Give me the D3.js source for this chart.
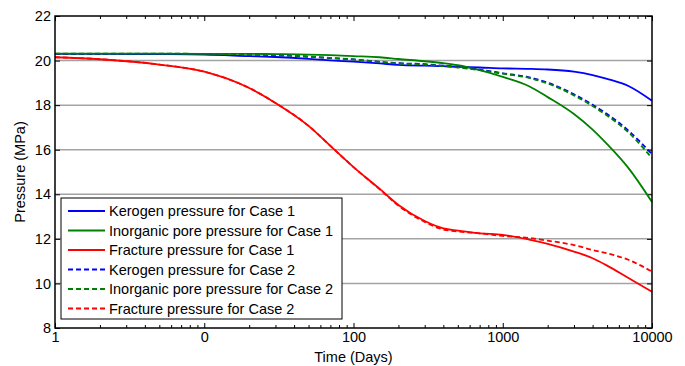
<!DOCTYPE html>
<html>
<head>
<meta charset="utf-8">
<script src="https://cdn.jsdelivr.net/npm/d3@7"></script>
<style>
  html, body { margin: 0; padding: 0; background: #fff; }
  svg { display: block; font-family: "Liberation Sans", Arial, sans-serif; }
</style>
</head>
<body>
<svg id="chart" width="685" height="366"></svg>
<script>
// ---- Data ----
const times = [1, 2, 5, 10, 20, 30, 50, 70, 100, 150, 200, 300, 400, 500, 700, 1000, 1500, 2000, 3000, 4000, 5000, 7000, 10000];

const kerogenCase1   = [20.30, 20.30, 20.29, 20.27, 20.20, 20.16, 20.08, 20.01, 19.95, 19.87, 19.81, 19.77, 19.75, 19.72, 19.69, 19.65, 19.63, 19.60, 19.50, 19.35, 19.18, 18.85, 18.20];
const inorganicCase1 = [20.31, 20.31, 20.31, 20.30, 20.30, 20.29, 20.27, 20.24, 20.20, 20.15, 20.07, 19.97, 19.88, 19.79, 19.57, 19.27, 18.85, 18.36, 17.60, 16.90, 16.25, 15.15, 13.65];
const fractureCase1  = [20.15, 20.06, 19.82, 19.50, 18.77, 18.10, 17.07, 16.17, 15.22, 14.24, 13.52, 12.80, 12.47, 12.37, 12.25, 12.18, 11.97, 11.78, 11.43, 11.13, 10.80, 10.23, 9.63];
const kerogenCase2   = [20.30, 20.30, 20.30, 20.29, 20.27, 20.24, 20.17, 20.11, 20.05, 19.94, 19.88, 19.84, 19.77, 19.71, 19.59, 19.43, 19.25, 19.01, 18.49, 18.02, 17.60, 16.84, 15.80];
const inorganicCase2 = [20.31, 20.31, 20.31, 20.30, 20.28, 20.25, 20.18, 20.12, 20.05, 19.94, 19.87, 19.82, 19.75, 19.69, 19.57, 19.41, 19.22, 18.97, 18.44, 17.96, 17.53, 16.76, 15.62];
const fractureCase2  = [20.15, 20.06, 19.82, 19.50, 18.77, 18.10, 17.07, 16.17, 15.22, 14.22, 13.49, 12.76, 12.42, 12.33, 12.25, 12.13, 12.04, 11.92, 11.72, 11.50, 11.35, 11.05, 10.53];

const seriesNames = [
  "Kerogen pressure for Case 1",
  "Inorganic pore pressure for Case 1",
  "Fracture pressure for Case 1",
  "Kerogen pressure for Case 2",
  "Inorganic pore pressure for Case 2",
  "Fracture pressure for Case 2"
];
const seriesValues = [kerogenCase1, inorganicCase1, fractureCase1, kerogenCase2, inorganicCase2, fractureCase2];
const seriesColors = ["#0000ff", "#008000", "#ff0000", "#0000ff", "#008000", "#ff0000"];
const seriesDashed = [false, false, false, true, true, true];

const xMajorTicks = [1, 10, 100, 1000, 10000];
const xTickLabels = ["1", "0", "100", "1000", "10000"];
const yTicks = [8, 10, 12, 14, 16, 18, 20, 22];
const xTitle = "Time (Days)";
const yTitle = "Pressure (MPa)";

// ---- Layout ----
const FS = "14.5px";
const L = 55, R = 652, T = 16, B = 328;
const svg = d3.select("#chart");
const x = d3.scaleLog().domain([1, 10000]).range([L, R]);
const y = d3.scaleLinear().domain([8, 22]).range([B, T]);

const xMinor = [];
for (let k = 0; k < 4; k++) for (let m = 2; m <= 9; m++) xMinor.push(m * Math.pow(10, k));

// grid
svg.append("g").selectAll("line")
  .data(yTicks.filter(v => v > 8 && v < 22))
  .join("line")
  .attr("x1", L).attr("x2", R)
  .attr("y1", d => y(d)).attr("y2", d => y(d))
  .attr("stroke", "#a3a3a3").attr("stroke-width", 1.5);

function styleAxis(g) {
  g.select(".domain").remove();
  g.selectAll("line").attr("stroke", "#000").attr("stroke-width", 1);
  g.selectAll("text").attr("fill", "#000").style("font-size", FS)
   .style("font-family", "'Liberation Sans', Arial, sans-serif");
}

// x axes
svg.append("g").attr("transform", `translate(0,${B})`)
  .call(d3.axisBottom(x).tickValues(xMajorTicks).tickSize(-5).tickSizeOuter(0).tickPadding(4)
    .tickFormat((d, i) => xTickLabels[i]))
  .call(styleAxis);
svg.append("g").attr("transform", `translate(0,${B})`)
  .call(d3.axisBottom(x).tickValues(xMinor).tickSize(-3).tickSizeOuter(0).tickFormat(""))
  .call(styleAxis);
svg.append("g").attr("transform", `translate(0,${T})`)
  .call(d3.axisTop(x).tickValues(xMajorTicks).tickSize(-5).tickSizeOuter(0).tickFormat(""))
  .call(styleAxis);
svg.append("g").attr("transform", `translate(0,${T})`)
  .call(d3.axisTop(x).tickValues(xMinor).tickSize(-3).tickSizeOuter(0).tickFormat(""))
  .call(styleAxis);

// y axes
svg.append("g").attr("transform", `translate(${L},0)`)
  .call(d3.axisLeft(y).tickValues(yTicks).tickSize(-5).tickSizeOuter(0).tickPadding(4).tickFormat(d3.format("d")))
  .call(styleAxis);
svg.append("g").attr("transform", `translate(${R},0)`)
  .call(d3.axisRight(y).tickValues(yTicks).tickSize(-5).tickSizeOuter(0).tickFormat(""))
  .call(styleAxis);

// lines
const line = d3.line().curve(d3.curveMonotoneX);
seriesValues.forEach((vals, i) => {
  const pts = times.map((t, j) => [x(t), y(vals[j])]);
  svg.append("path")
    .attr("d", line(pts))
    .attr("fill", "none")
    .attr("stroke", seriesColors[i])
    .attr("stroke-width", 1.8)
    .attr("stroke-dasharray", seriesDashed[i] ? "5,3" : null);
});

// frame
svg.append("rect").attr("x", L).attr("y", T).attr("width", R - L).attr("height", B - T)
  .attr("fill", "none").attr("stroke", "#000").attr("stroke-width", 1.5);

// titles
svg.append("text").attr("x", (L + R) / 2).attr("y", 362).attr("text-anchor", "middle")
  .style("font-size", FS).text(xTitle);
svg.append("text").attr("transform", `translate(25,${(T + B) / 2}) rotate(-90)`)
  .attr("text-anchor", "middle").style("font-size", FS).text(yTitle);

// legend
const lg = svg.append("g");
lg.append("rect").attr("x", 61).attr("y", 198).attr("width", 281).attr("height", 121)
  .attr("fill", "#fff").attr("stroke", "#000").attr("stroke-width", 1);
seriesNames.forEach((name, i) => {
  const cy = 211 + i * 19.5;
  lg.append("line").attr("x1", 68).attr("x2", 105).attr("y1", cy).attr("y2", cy)
    .attr("stroke", seriesColors[i]).attr("stroke-width", 1.8)
    .attr("stroke-dasharray", seriesDashed[i] ? "5,3" : null);
  lg.append("text").attr("x", 109).attr("y", cy + 5).style("font-size", FS).text(name);
});
</script>
</body>
</html>
